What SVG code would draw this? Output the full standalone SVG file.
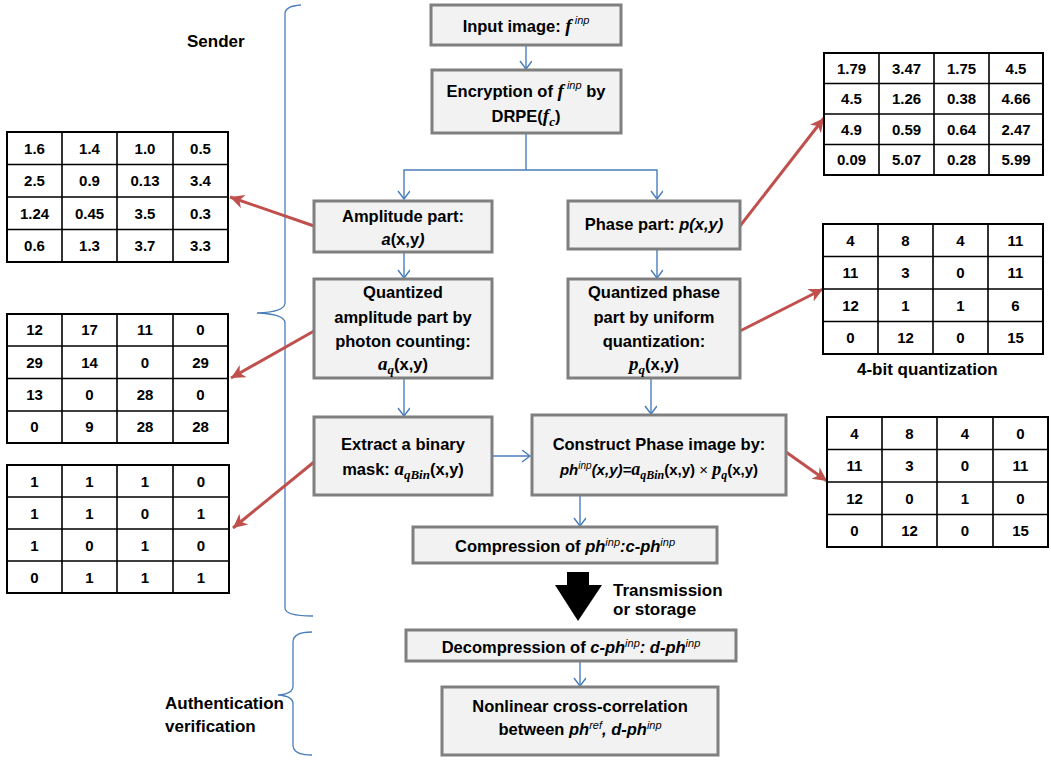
<svg xmlns="http://www.w3.org/2000/svg" width="1051" height="760" viewBox="0 0 1051 760">
<defs>
<style>
.box{fill:#f2f2f2;stroke:#7f7f7f;stroke-width:3}
.t{font-family:"Liberation Sans",Arial,sans-serif;font-weight:bold;font-size:16.5px;fill:#000;text-anchor:middle}
.lbl{font-family:"Liberation Sans",Arial,sans-serif;font-weight:bold;font-size:17px;fill:#000}
.m{font-family:"Liberation Serif","Times New Roman",serif;font-style:italic;font-weight:bold;font-size:19px}
.ms{font-family:"Liberation Serif","Times New Roman",serif;font-style:italic;font-weight:bold;font-size:13px}
.it{font-style:italic}
.sup{font-style:italic;font-size:11px;font-weight:normal}
.blue{stroke:#4a7ebb;stroke-width:1.4;fill:none}
.red{stroke:#c0504d;stroke-width:3;fill:none}
.brace{stroke:#4a7ebb;stroke-width:1.3;fill:none}
.tb{fill:#fff;stroke:#000;stroke-width:2}
.tl{stroke:#000;stroke-width:1.6}
.c{font-family:"Liberation Sans",Arial,sans-serif;font-weight:bold;font-size:15px;text-anchor:middle;fill:#000}
</style>
<marker id="ab" markerWidth="14" markerHeight="14" refX="9" refY="6" orient="auto" markerUnits="userSpaceOnUse">
<path d="M1,0 L9,6 L1,12" fill="none" stroke="#4a7ebb" stroke-width="1.4"/>
</marker>
<marker id="ar" markerWidth="20" markerHeight="20" refX="14" refY="8" orient="auto" markerUnits="userSpaceOnUse">
<path d="M0,1 L14,8 L0,15 L4,8 Z" fill="#c0504d"/>
</marker>
</defs>
<rect width="1051" height="760" fill="#fff"/>

<g id="braces">
<path class="brace" d="M301,5 Q285,6 285,14 L285,303 Q285,312 257,313 Q285,314 285,323 L285,608 Q285,616 313,616"/>
<path class="brace" d="M312,632 Q293,632 293,642 L293,686 Q293,694 278,695 Q293,696 293,704 L293,745 Q293,755 312,755"/>
</g>
<g id="labels">
<text class="lbl" x="187" y="47">Sender</text>
<text class="lbl" x="165" y="709">Authentication</text>
<text class="lbl" x="165" y="732">verification</text>
<text class="lbl" x="613" y="596">Transmission</text>
<text class="lbl" x="613" y="615">or storage</text>
<text class="lbl" x="857" y="375">4-bit quantization</text>
</g>

<g id="connectors">
<line class="blue" x1="526" y1="46" x2="526" y2="69" marker-end="url(#ab)"/>
<polyline class="blue" points="526,134 526,170 404,170 404,199" marker-end="url(#ab)"/>
<polyline class="blue" points="526,170 657,170 657,199" marker-end="url(#ab)"/>
<line class="blue" x1="404" y1="253" x2="404" y2="278" marker-end="url(#ab)"/>
<line class="blue" x1="657" y1="250" x2="657" y2="278" marker-end="url(#ab)"/>
<line class="blue" x1="404" y1="379" x2="404" y2="416" marker-end="url(#ab)"/>
<line class="blue" x1="651" y1="379" x2="651" y2="414" marker-end="url(#ab)"/>
<line class="blue" x1="493" y1="456" x2="530" y2="456" marker-end="url(#ab)"/>
<line class="blue" x1="580" y1="496" x2="580" y2="526" marker-end="url(#ab)"/>
<line class="blue" x1="580" y1="662" x2="580" y2="686" marker-end="url(#ab)"/>
<path d="M567,572 L589,572 L589,585 L602,585 L578,621 L555,585 L567,585 Z" fill="#000"/>
<line class="red" x1="314" y1="226" x2="230" y2="197" marker-end="url(#ar)"/>
<line class="red" x1="314" y1="331" x2="231" y2="378" marker-end="url(#ar)"/>
<line class="red" x1="314" y1="462" x2="233" y2="528" marker-end="url(#ar)"/>
<line class="red" x1="740" y1="226" x2="824" y2="118" marker-end="url(#ar)"/>
<line class="red" x1="740" y1="331" x2="823" y2="289" marker-end="url(#ar)"/>
<line class="red" x1="786" y1="452" x2="827" y2="481" marker-end="url(#ar)"/>
</g>

<g id="n1"><rect class="box" x="431" y="5" width="190" height="40"/>
<text class="t" x="526" y="32">Input image: <tspan class="m">f</tspan><tspan class="sup" dy="-8"> inp</tspan></text></g>
<g id="n2"><rect class="box" x="432" y="70" width="189" height="63"/>
<text class="t" x="526" y="97">Encryption of <tspan class="m">f</tspan><tspan class="sup" dy="-8"> inp</tspan><tspan dy="8"> by</tspan></text>
<text class="t" x="526" y="122">DRPE(<tspan class="m">f</tspan><tspan class="ms" dy="4">c</tspan><tspan dy="-4">)</tspan></text></g>
<g id="n3"><rect class="box" x="314" y="201" width="178" height="51"/>
<text class="t" x="403" y="222">Amplitude part:</text>
<text class="t" x="403" y="245"><tspan class="it">a</tspan>(x,y<tspan class="it">)</tspan></text></g>
<g id="n4"><rect class="box" x="568" y="201" width="172" height="48"/>
<text class="t" x="654" y="230">Phase part: <tspan class="it">p(x,y)</tspan></text></g>
<g id="n5"><rect class="box" x="314" y="279" width="178" height="99"/>
<text class="t" x="403" y="298">Quantized</text>
<text class="t" x="403" y="323">amplitude part by</text>
<text class="t" x="403" y="347">photon counting:</text>
<text class="t" x="403" y="370"><tspan class="m">a</tspan><tspan class="ms" dy="4">q</tspan><tspan dy="-4">(x,y)</tspan></text></g>
<g id="n6"><rect class="box" x="568" y="279" width="172" height="99"/>
<text class="t" x="654" y="298">Quantized phase</text>
<text class="t" x="654" y="323">part by uniform</text>
<text class="t" x="654" y="347">quantization:</text>
<text class="t" x="654" y="370"><tspan class="m">p</tspan><tspan class="ms" dy="4">q</tspan><tspan dy="-4">(x,y)</tspan></text></g>
<g id="n7"><rect class="box" x="314" y="417" width="178" height="78"/>
<text class="t" x="403" y="450">Extract a binary</text>
<text class="t" x="403" y="475">mask: <tspan class="m">a</tspan><tspan class="ms" dy="4">qBin</tspan><tspan dy="-4">(x,y)</tspan></text></g>
<g id="n8"><rect class="box" x="532" y="415" width="254" height="80"/>
<text class="t" x="659" y="450">Construct Phase image by:</text>
<text class="t" x="659" y="475" style="font-size:15px"><tspan class="it">ph</tspan><tspan class="sup" dy="-6" style="font-size:10px">inp</tspan><tspan class="it" dy="6">(x,y)=</tspan><tspan class="m" style="font-size:18px">a</tspan><tspan class="ms" dy="4" style="font-size:12px">qBin</tspan><tspan dy="-4">(x,y)</tspan><tspan style="font-weight:normal"> × </tspan><tspan class="m" style="font-size:18px">p</tspan><tspan class="ms" dy="4" style="font-size:12px">q</tspan><tspan dy="-4">(x,y)</tspan></text></g>
<g id="n9"><rect class="box" x="413" y="527" width="304" height="36"/>
<text class="t" x="565" y="552">Compression of <tspan class="it">ph</tspan><tspan class="sup" dy="-6">inp</tspan><tspan class="it" dy="6">:c-ph</tspan><tspan class="sup" dy="-6">inp</tspan></text></g>
<g id="n10"><rect class="box" x="406" y="630" width="330" height="31"/>
<text class="t" x="571" y="653">Decompression of <tspan class="it">c-ph</tspan><tspan class="sup" dy="-6">inp</tspan><tspan class="it" dy="6">: d-ph</tspan><tspan class="sup" dy="-6">inp</tspan></text></g>
<g id="n11"><rect class="box" x="442" y="687" width="276" height="68"/>
<text class="t" x="580" y="712">Nonlinear cross-correlation</text>
<text class="t" x="580" y="735">between <tspan class="it">ph</tspan><tspan class="sup" dy="-6">ref</tspan><tspan class="it" dy="6">, d-ph</tspan><tspan class="sup" dy="-6">inp</tspan></text></g>

<g id="table1">
<rect class="tb" x="7" y="132" width="221" height="130"/>
<path class="tl" d="M62,132V262M117,132V262M173,132V262M7,164.5H228M7,197H228M7,229.5H228"/>
<text class="c" y="154"><tspan x="34.5">1.6</tspan><tspan x="89.5">1.4</tspan><tspan x="145">1.0</tspan><tspan x="200.5">0.5</tspan></text>
<text class="c" y="186"><tspan x="34.5">2.5</tspan><tspan x="89.5">0.9</tspan><tspan x="145">0.13</tspan><tspan x="200.5">3.4</tspan></text>
<text class="c" y="219"><tspan x="34.5">1.24</tspan><tspan x="89.5">0.45</tspan><tspan x="145">3.5</tspan><tspan x="200.5">0.3</tspan></text>
<text class="c" y="251"><tspan x="34.5">0.6</tspan><tspan x="89.5">1.3</tspan><tspan x="145">3.7</tspan><tspan x="200.5">3.3</tspan></text>
</g>
<g id="table2">
<rect class="tb" x="7" y="314" width="221" height="129"/>
<path class="tl" d="M62,314V443M117,314V443M173,314V443M7,346H228M7,378.5H228M7,411H228"/>
<text class="c" y="335"><tspan x="34.5">12</tspan><tspan x="89.5">17</tspan><tspan x="145">11</tspan><tspan x="200.5">0</tspan></text>
<text class="c" y="368"><tspan x="34.5">29</tspan><tspan x="89.5">14</tspan><tspan x="145">0</tspan><tspan x="200.5">29</tspan></text>
<text class="c" y="400"><tspan x="34.5">13</tspan><tspan x="89.5">0</tspan><tspan x="145">28</tspan><tspan x="200.5">0</tspan></text>
<text class="c" y="432"><tspan x="34.5">0</tspan><tspan x="89.5">9</tspan><tspan x="145">28</tspan><tspan x="200.5">28</tspan></text>
</g>
<g id="table3">
<rect class="tb" x="7" y="465" width="222" height="128"/>
<path class="tl" d="M62,465V593M117,465V593M173,465V593M7,497H229M7,529H229M7,561H229"/>
<text class="c" y="487"><tspan x="34.5">1</tspan><tspan x="89.5">1</tspan><tspan x="145">1</tspan><tspan x="201">0</tspan></text>
<text class="c" y="519"><tspan x="34.5">1</tspan><tspan x="89.5">1</tspan><tspan x="145">0</tspan><tspan x="201">1</tspan></text>
<text class="c" y="551"><tspan x="34.5">1</tspan><tspan x="89.5">0</tspan><tspan x="145">1</tspan><tspan x="201">0</tspan></text>
<text class="c" y="583"><tspan x="34.5">0</tspan><tspan x="89.5">1</tspan><tspan x="145">1</tspan><tspan x="201">1</tspan></text>
</g>
<g id="table4">
<rect class="tb" x="824" y="53" width="219" height="122"/>
<path class="tl" d="M879,53V175M934,53V175M989,53V175M824,83.5H1043M824,114H1043M824,144.5H1043"/>
<text class="c" y="74"><tspan x="851.5">1.79</tspan><tspan x="906.5">3.47</tspan><tspan x="961.5">1.75</tspan><tspan x="1016">4.5</tspan></text>
<text class="c" y="104"><tspan x="851.5">4.5</tspan><tspan x="906.5">1.26</tspan><tspan x="961.5">0.38</tspan><tspan x="1016">4.66</tspan></text>
<text class="c" y="135"><tspan x="851.5">4.9</tspan><tspan x="906.5">0.59</tspan><tspan x="961.5">0.64</tspan><tspan x="1016">2.47</tspan></text>
<text class="c" y="165"><tspan x="851.5">0.09</tspan><tspan x="906.5">5.07</tspan><tspan x="961.5">0.28</tspan><tspan x="1016">5.99</tspan></text>
</g>
<g id="table5">
<rect class="tb" x="823" y="224" width="220" height="130"/>
<path class="tl" d="M878,224V354M933,224V354M988,224V354M823,256.5H1043M823,289H1043M823,321.5H1043"/>
<text class="c" y="246"><tspan x="850.5">4</tspan><tspan x="905.5">8</tspan><tspan x="960.5">4</tspan><tspan x="1015.5">11</tspan></text>
<text class="c" y="278"><tspan x="850.5">11</tspan><tspan x="905.5">3</tspan><tspan x="960.5">0</tspan><tspan x="1015.5">11</tspan></text>
<text class="c" y="311"><tspan x="850.5">12</tspan><tspan x="905.5">1</tspan><tspan x="960.5">1</tspan><tspan x="1015.5">6</tspan></text>
<text class="c" y="343"><tspan x="850.5">0</tspan><tspan x="905.5">12</tspan><tspan x="960.5">0</tspan><tspan x="1015.5">15</tspan></text>
</g>
<g id="table6">
<rect class="tb" x="827" y="417" width="221" height="130"/>
<path class="tl" d="M882,417V547M937,417V547M993,417V547M827,449.5H1048M827,482H1048M827,514.5H1048"/>
<text class="c" y="439"><tspan x="854.5">4</tspan><tspan x="909.5">8</tspan><tspan x="965">4</tspan><tspan x="1020.5">0</tspan></text>
<text class="c" y="471"><tspan x="854.5">11</tspan><tspan x="909.5">3</tspan><tspan x="965">0</tspan><tspan x="1020.5">11</tspan></text>
<text class="c" y="504"><tspan x="854.5">12</tspan><tspan x="909.5">0</tspan><tspan x="965">1</tspan><tspan x="1020.5">0</tspan></text>
<text class="c" y="536"><tspan x="854.5">0</tspan><tspan x="909.5">12</tspan><tspan x="965">0</tspan><tspan x="1020.5">15</tspan></text>
</g>
</svg>
